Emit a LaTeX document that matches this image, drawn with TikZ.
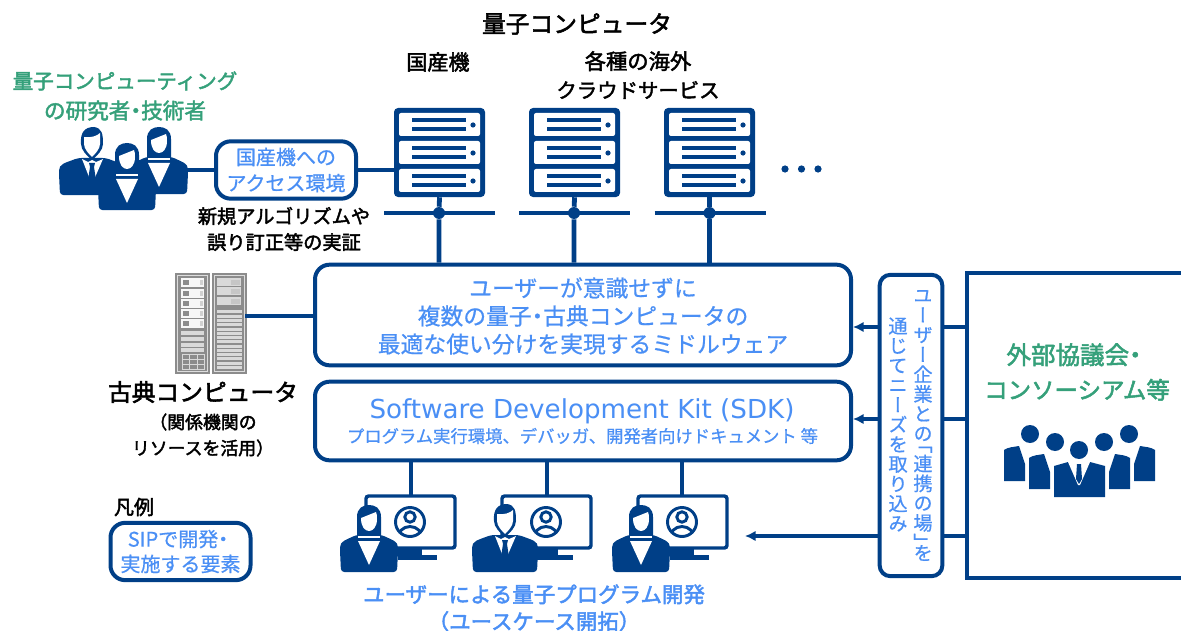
\documentclass[tikz,border=0pt]{standalone}
\usepackage{fontspec}
\setmainfont[FakeBold=0.6]{Noto Sans CJK JP}
\newfontfamily\cjkmed[FakeBold=2.2]{Noto Sans CJK JP}
\newfontfamily\cjkvert[RawFeature={+vert},FakeBold=0.6]{Noto Sans CJK JP}
\newfontfamily\latinwide{DejaVu Sans}
\newcommand{\middot}{\hspace{-.25em}・\hspace{-.25em}}
\newcommand{\needfont}{\cjkvert\fontsize{14.4}{14.8}\selectfont\lineskiplimit=-100pt\relax}
\usetikzlibrary{arrows.meta,calc}
\definecolor{navy}{HTML}{003F87}
\definecolor{sipblue}{HTML}{4A8FF5}
\definecolor{teamgreen}{HTML}{35A07A}
\definecolor{rackgray}{HTML}{8C8C8C}
\definecolor{racklight}{HTML}{D9D9D9}
\tikzset{
    sipbox/.style={draw=navy, line width=3pt, rounded corners=11pt, fill=white, text=sipblue, align=center, inner sep=0pt},
    netline/.style={draw=navy, line width=3.6pt},
    tapline/.style={draw=navy, line width=2.6pt},
    needarrow/.style={draw=navy, line width=2.6pt, -{Latex[length=8pt,width=8pt]}},
    blacklabel/.style={font=\cjkmed\fontsize{15}{21.5}\selectfont, align=center, inner sep=0pt},
    greenlabel/.style={font=\cjkmed\fontsize{16}{22.5}\selectfont, text=teamgreen, align=center, inner sep=0pt},
    needcolumn/.style={text=sipblue, inner sep=0pt, align=center, font=\needfont},
    server/.pic={
        \fill[navy, rounded corners=3pt] (0,0) rectangle (91,89);
        \fill[white, rounded corners=1.5pt] (5,5) rectangle (86,28);
        \fill[white, rounded corners=1.5pt] (5,33) rectangle (86,56);
        \fill[white, rounded corners=1.5pt] (5,61) rectangle (86,84);
        \foreach \y in {12,40,68} {
            \fill[navy] (18,\y-2) rectangle (72,\y+2);
            \fill[navy] (18,\y+7) rectangle (72,\y+11);
            \fill[navy] (79,\y+5) circle (2.6);
        }
    },
    rackfront/.pic={
        \fill[rackgray] (0,0) rectangle (35,101);
        \draw[white!70!rackgray, line width=0.6pt] (2.5,2.5) rectangle (32.5,98.5);
        \foreach \y in {5,15.5,25.5,36,46} {
            \fill[white!93!rackgray] (6,\y) rectangle (29,\y+9);
            \fill[rackgray] (8,\y+2) rectangle (14,\y+7);
            \fill[white!60!rackgray] (25,\y+2) rectangle (28,\y+7);
        }
        \foreach \y in {58,64,70,75} \fill[racklight] (6,\y) rectangle (29,\y+4);
        \draw[racklight, line width=0.6pt] (7,81) rectangle (29,96) (7,86) -- (29,86) (7,91) -- (29,91) (14,81) -- (14,96) (22,81) -- (22,96);
    },
    rackback/.pic={
        \fill[rackgray] (0,0) rectangle (35,101);
        \draw[white!70!rackgray, line width=0.6pt] (2.5,2.5) rectangle (32.5,98.5);
        \foreach \y in {5,14,24} {
            \fill[racklight] (5,\y) rectangle (29,\y+8);
            \fill[white!50!rackgray] (19,\y+2) rectangle (28,\y+7);
        }
        \foreach \y in {37,41.5,46,50,54.5,58.5,63,67,71.5,75.5,80,84,88.5,92.5} \fill[racklight] (5,\y) rectangle (30,\y+3);
    },
    womanbust/.pic={
        \fill[navy, rounded corners=2.5pt] (1,37) -- (0,16) .. controls (0,6) and (6,5) .. (16,0) -- (42,0) .. controls (52,5) and (58,6) .. (58,16) -- (57,37) -- cycle;
        \fill[navy] (17,3) -- (17,-18) .. controls (17,-27) and (23,-30) .. (29,-30) .. controls (35,-30) and (41,-27) .. (41,-18) -- (41,3) -- cycle;
        \fill[white] (21,-17) -- (36,-23) .. controls (37,-21) and (37,-19) .. (37,-16) .. controls (37,-8) and (33,-4) .. (29,-4) .. controls (25,-4) and (21,-8) .. (21,-17) -- cycle;
        \fill[white] (18,1) -- (40,1) -- (40,3) -- (18,3) -- cycle;
        \fill[white] (18,6) -- (40,6) -- (29,30) -- cycle;
    },
    manbust/.pic={
        \fill[navy, rounded corners=2.5pt] (1,37) -- (0,16) .. controls (0,6) and (6,5) .. (19,0) -- (47,0) .. controls (60,5) and (66,6) .. (66,16) -- (65,37) -- cycle;
        \fill[navy] (22,-14) .. controls (21,-26) and (26,-31) .. (35,-31) .. controls (43,-30) and (44,-24) .. (44,-14) .. controls (44,-8) and (38,-2) .. (33,2) .. controls (28,-2) and (22,-8) .. (22,-14) -- cycle;
        \fill[white] (25,-21) .. controls (32,-20) and (38,-22) .. (41,-25) -- (41,-14) .. controls (41,-9) and (36,-4) .. (33,-1) .. controls (30,-4) and (25,-9) .. (25,-14) -- cycle;
        \fill[white] (23,1) -- (29,4) -- (33,2) -- (37,4) -- (44,1) -- (34,24) -- (32,24) -- cycle;
        \fill[navy] (30,5) -- (36,5) -- (35,9) -- (37,22) -- (33,27) -- (29,22) -- (31,9) -- cycle;
    },
    desktop/.pic={
        \draw[navy, line width=2.6pt, rounded corners=2pt] (2,2) rectangle (91,54);
        \fill[navy] (34,54) rectangle (58,66);
        \fill[navy] (58,61) rectangle (73,66);
        \draw[navy, line width=2.2pt] (46,28) circle (14.5);
        \draw[navy, line width=2.2pt] (46,23) circle (5.2);
        \begin{scope}
            \clip (46,28) circle (14.5);
            \draw[navy, line width=2.2pt] (46,45) circle (12.5);
        \end{scope}
    },
    sideperson/.pic={
        \fill[navy] (0,0) -- (0,-31) .. controls (4,-34) and (10,-34) .. (15,-35) -- (21,-17) -- (21,0) -- cycle;
    },
}
\begin{document}
\begin{tikzpicture}[x=0.75pt,y=-0.75pt]
    \useasboundingbox (0,0) rectangle (1181,631);
    % headings
    \node[blacklabel, font=\cjkmed\fontsize{17.8}{21}\selectfont] (qctitle) at (577,24) {量子コンピュータ};
    \node[blacklabel, font=\cjkmed\fontsize{15.8}{21}\selectfont] (domestic) at (438,62) {国産機};
    \node[blacklabel] (overseas) at (638,75) {{\fontsize{16}{21.5}\selectfont 各種の海外}\\{\fontsize{15.3}{21.5}\selectfont クラウドサービス}};
    \node[greenlabel, font=\cjkmed\fontsize{15.4}{22.5}\selectfont] (researchers) at (125,96) {量子コンピューティング\\{\fontsize{16.2}{22.5}\selectfont の研究者\middot 技術者}};
    % servers and their taps
    \node[minimum width=68.25pt, minimum height=66.75pt, inner sep=0pt] (srvA) at (439.5,152.5) {};
    \node[minimum width=68.25pt, minimum height=66.75pt, inner sep=0pt] (srvB) at (574.5,152.5) {};
    \node[minimum width=68.25pt, minimum height=66.75pt, inner sep=0pt] (srvC) at (709.5,152.5) {};
    \pic at (394,108) {server};
    \pic at (529,108) {server};
    \pic at (664,108) {server};
    \node[circle, fill=navy, minimum size=9pt, inner sep=0pt] (tapA) at (439,213) {};
    \node[circle, fill=navy, minimum size=9pt, inner sep=0pt] (tapB) at (574,213) {};
    \node[circle, fill=navy, minimum size=9pt, inner sep=0pt] (tapC) at (709.5,213) {};
    \draw[tapline] ($(tapA)+(-55,0)$) -- ($(tapA)+(56,0)$);
    \draw[tapline] ($(tapB)+(-55,0)$) -- ($(tapB)+(56,0)$);
    \draw[tapline] ($(tapC)+(-55,0)$) -- ($(tapC)+(56,0)$);
    \fill[navy] (785,169) circle (3.6) (801.5,169) circle (3.6) (818,169) circle (3.6);
    % main boxes
    \node[sipbox, minimum width=402pt, minimum height=75.5pt] (middleware) at (583,315) {};
    \node[text=sipblue, align=center, inner sep=0pt, font=\fontsize{17.1}{21}\selectfont] (middletext) at (583,316) {ユーザーが意識せずに\\複数の量子\middot 古典コンピュータの\\最適な使い分けを実現するミドルウェア};
    \node[sipbox, minimum width=402pt, minimum height=59pt] (sdk) at (583,421) {};
    \node[text=sipblue, inner sep=0pt, font=\latinwide\fontsize{19.6}{25}\selectfont] (sdktitle) at (582,411) {Software Development Kit (SDK)};
    \node[text=sipblue, inner sep=0pt, font=\fontsize{13}{16}\selectfont] (sdknote) at (582.5,436) {プログラム実行環境、デバッガ、開発者向けドキュメント 等};
    \draw[netline] (srvA.south) -- (tapA) -- (middleware.north -| tapA);
    \draw[netline] (srvB.south) -- (tapB) -- (middleware.north -| tapB);
    \draw[netline] (srvC.south) -- (tapC) -- (middleware.north -| tapC);
    % access box and researchers
    \node[sipbox, minimum width=105pt, minimum height=43pt, font=\fontsize{15}{19.5}\selectfont] (access) at (286,170) {国産機への\\アクセス環境};
    \coordinate (team) at (185,170);
    \draw[netline] (team) -- (access.west);
    \draw[netline] (access.east) -- (srvA.west |- access);
    \pic at (130,157) {womanbust};
    \pic at (59,158) {manbust};
    \pic at (98,173) {womanbust};
    \node[blacklabel, font=\cjkmed\fontsize{14.4}{19.5}\selectfont] (algo) at (284,229) {新規アルゴリズムや\\誤り訂正等の実証};
    % classical computer
    \pic at (175,273) {rackfront};
    \pic at (212,273) {rackback};
    \coordinate (rack) at (245,316);
    \draw[tapline] (rack) -- (middleware.west |- rack);
    \node[blacklabel, font=\cjkmed\fontsize{17.8}{21}\selectfont] (classical) at (203,392) {古典コンピュータ};
    \node[blacklabel, font=\cjkmed\fontsize{13.4}{19.5}\selectfont] (classnote) at (203,435) {（関係機関の\\リソースを活用）};
    % legend
    \node[blacklabel, font=\cjkmed\fontsize{15}{16}\selectfont] (legend) at (134,507) {凡例};
    \node[sipbox, minimum width=105pt, minimum height=43pt, font=\fontsize{15}{18.7}\selectfont] (sipkey) at (180.5,551.5) {SIPで開発\middot\\実施する要素};
    % users
    \coordinate (monA) at (411,495);
    \coordinate (monB) at (547,495);
    \coordinate (monC) at (682,495);
    \draw[netline] (sdk.south -| monA) -- (monA);
    \draw[netline] (sdk.south -| monB) -- (monB);
    \draw[netline] (sdk.south -| monC) -- (monC);
    \pic at (364,494) {desktop};
    \pic at (500,494) {desktop};
    \pic at (636,494) {desktop};
    \pic at (340,535) {womanbust};
    \pic at (472,535) {manbust};
    \pic at (612,535) {womanbust};
    \node[blacklabel, font=\cjkmed\fontsize{16.1}{20.3}\selectfont, text=sipblue] (users) at (534,608) {ユーザーによる量子プログラム開発\\（ユースケース開拓）};
    % outside parties
    \node[minimum width=161.25pt, minimum height=228.75pt, inner sep=0pt] (outside) at (1074.5,425.5) {};
    \draw[navy, line width=3pt] (outside.north east) -- (outside.north west) -- (outside.south west) -- (outside.south east);
    \node[greenlabel, font=\cjkmed\fontsize{17.6}{26}\selectfont] (council) at (1077,372) {{\fontsize{18.4}{26}\selectfont 外部協議会\middot}\\コンソーシアム等};
    \pic at (1004,481) {sideperson};
    \pic at (1029,489) {sideperson};
    \pic[xscale=-1] at (1155,481) {sideperson};
    \pic[xscale=-1] at (1130,489) {sideperson};
    \fill[navy] (1054,497) -- (1054,466) -- (1068,462) -- (1090,462) -- (1105,466) -- (1105,497) -- cycle;
    \fill[white] (1068,462) -- (1090,462) -- (1080,485) -- (1078,485) -- cycle;
    \fill[navy] (1077,464) -- (1081,464) -- (1082,479) -- (1079,484) -- (1076,479) -- cycle;
    \fill[navy] (1030,434) circle (9) (1055,442) circle (9) (1079,450) circle (9) (1104,442) circle (9) (1129,434) circle (9);
    % needs box and arrows
    \node[sipbox, minimum width=47pt, minimum height=226pt, rounded corners=8pt] (needs) at (911,425.5) {};
    \node[needcolumn] (needsfirst) at (923,425.5) {ユ\\ー\\ザ\\ー\\企\\業\\と\\の\\[-7pt]「\\連\\携\\の\\場\\」\\[-7pt]を};
    \node[needcolumn] (needsnext) at (898,424.5) {通\\じ\\て\\ニ\\ー\\ズ\\を\\取\\り\\込\\み};
    \coordinate (askA) at (911,327);
    \coordinate (askB) at (911,419);
    \coordinate (askC) at (745,536);
    \draw[tapline] (outside.west |- askA) -- (needs.east |- askA);
    \draw[tapline] (outside.west |- askB) -- (needs.east |- askB);
    \draw[tapline] (outside.west |- askC) -- (needs.east |- askC);
    \draw[needarrow] (needs.west |- askA) -- (middleware.east |- askA);
    \draw[needarrow] (needs.west |- askB) -- (sdk.east |- askB);
    \draw[needarrow] (needs.west |- askC) -- (askC);
\end{tikzpicture}
\end{document}
